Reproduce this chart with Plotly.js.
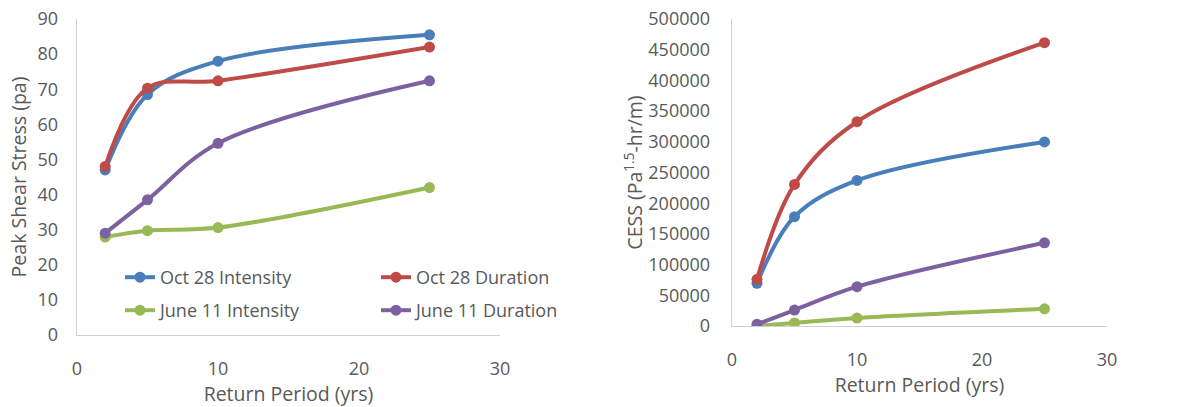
<!DOCTYPE html>
<html><head><meta charset="utf-8">
<script src="https://cdn.plot.ly/plotly-3.0.1.min.js"></script>
<style>body{margin:0;background:#fff}#chart{width:1191px;height:407px}</style>
</head><body><div id="chart"></div>
<script>
const returnPeriod = [2, 5, 10, 25];
const seriesNames = ["Oct 28 Intensity", "Oct 28 Duration", "June 11 Intensity", "June 11 Duration"];
const seriesColors = ["#4A7EBB", "#BE4B48", "#98B954", "#7D60A0"];
// Peak shear stress (pa)
const shearOct28Intensity = [47, 68.5, 78, 85.5];
const shearOct28Duration = [48, 70.3, 72.4, 82];
const shearJune11Intensity = [27.9, 29.7, 30.6, 42];
const shearJune11Duration = [29, 38.5, 54.6, 72.4];
// CESS (Pa^1.5-hr/m)
const cessOct28Intensity = [69500, 178000, 237000, 299700];
const cessOct28Duration = [76000, 230500, 332700, 461500];
const cessJune11Intensity = [0, 5000, 13000, 28000];
const cessJune11Duration = [3000, 26000, 64000, 135500];

const shear = [shearOct28Intensity, shearOct28Duration, shearJune11Intensity, shearJune11Duration];
const cess = [cessOct28Intensity, cessOct28Duration, cessJune11Intensity, cessJune11Duration];

const FONT = "Open Sans, Noto Sans, sans-serif";
const TXT = "#595959";
const traces = [];
shear.forEach((ys, i) => {
  traces.push({
    x: returnPeriod, y: ys, name: seriesNames[i], type: "scatter", mode: "lines+markers",
    line: {color: seriesColors[i], width: 4, shape: "spline", smoothing: 1},
    marker: {color: seriesColors[i], size: 11},
    xaxis: "x", yaxis: "y", legend: i < 2 ? "legend" : "legend2"
  });
});
cess.forEach((ys, i) => {
  traces.push({
    x: returnPeriod, y: ys, name: seriesNames[i], type: "scatter", mode: "lines+markers",
    line: {color: seriesColors[i], width: 4, shape: "spline", smoothing: 1},
    marker: {color: seriesColors[i], size: 11},
    xaxis: "x2", yaxis: "y2", showlegend: false
  });
});

const axisCommon = {
  showgrid: false, zeroline: false, showline: true, linecolor: "#D0D0D0", linewidth: 1.3,
  ticks: "outside", tickcolor: "rgba(0,0,0,0)",
  tickfont: {family: FONT, size: 18, color: TXT}
};
const TITLE_FONT = {family: FONT, size: 19.5, color: TXT};
const W = 1191, H = 407;
const layout = {
  width: W, height: H, margin: {l: 0, r: 0, t: 0, b: 0},
  paper_bgcolor: "#fff", plot_bgcolor: "#fff", showlegend: true,
  font: {family: FONT, color: TXT},
  xaxis: Object.assign({}, axisCommon, {
    domain: [77 / W, 500 / W], range: [0, 30], dtick: 10, ticklen: 17,
    anchor: "y",
    title: {text: "Return Period (yrs)", font: TITLE_FONT, standoff: 6}
  }),
  yaxis: Object.assign({}, axisCommon, {
    domain: [1 - 335 / H, 1 - 19 / H], range: [0, 90], dtick: 10, ticklen: 14,
    anchor: "x",
    title: {text: "Peak Shear Stress (pa)", font: TITLE_FONT, standoff: 5}
  }),
  xaxis2: Object.assign({}, axisCommon, {
    domain: [732 / W, 1107 / W], range: [0, 30], dtick: 10, ticklen: 17,
    anchor: "y2",
    title: {text: "Return Period (yrs)", font: TITLE_FONT, standoff: 6}
  }),
  yaxis2: Object.assign({}, axisCommon, {
    domain: [1 - 326 / H, 1 - 19 / H], range: [0, 500000], dtick: 50000, ticklen: 17,
    anchor: "x2", tickformat: "d",
    title: {text: "CESS (Pa<sup>1.5</sup>-hr/m)", font: TITLE_FONT, standoff: 0}
  }),
  legend: {
    orientation: "h", x: 120 / W, y: 1 - 259 / H, xanchor: "left", yanchor: "top",
    entrywidth: 211, bgcolor: "rgba(0,0,0,0)", itemwidth: 30,
    font: {family: FONT, size: 18, color: TXT}
  },
  legend2: {
    orientation: "h", x: 120 / W, y: 1 - 292 / H, xanchor: "left", yanchor: "top",
    entrywidth: 211, bgcolor: "rgba(0,0,0,0)", itemwidth: 30,
    font: {family: FONT, size: 18, color: TXT}
  }
};
Plotly.newPlot("chart", traces, layout, {displayModeBar: false, staticPlot: true});
</script></body></html>
